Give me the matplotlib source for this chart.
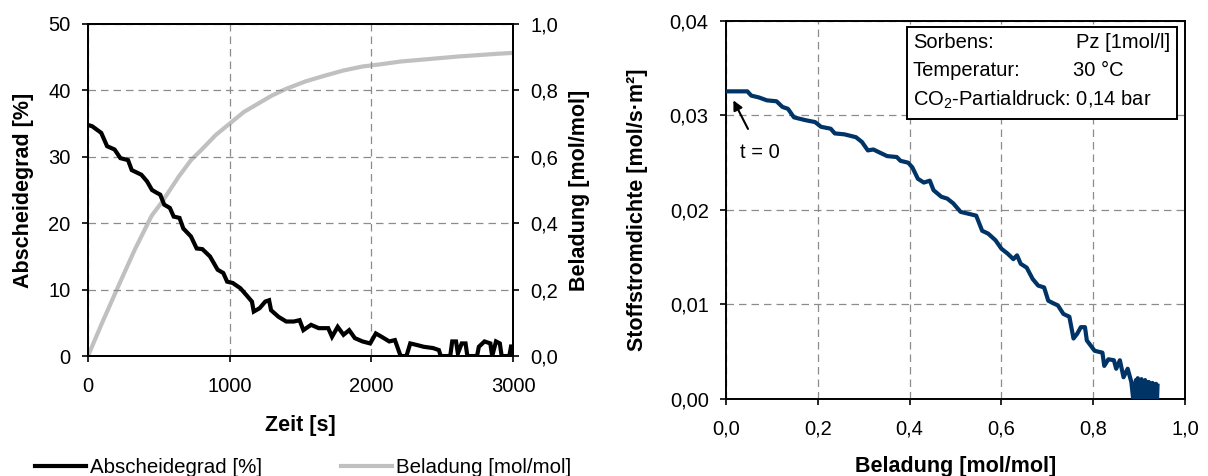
import numpy as np
import matplotlib
matplotlib.use("Agg")
from matplotlib import pyplot as plt
from matplotlib.ticker import FuncFormatter
from matplotlib.patches import Rectangle

plt.rcParams['font.family'] = ['Liberation Sans', 'DejaVu Sans']
plt.rcParams['mathtext.fontset'] = 'custom'
plt.rcParams['mathtext.rm'] = 'Liberation Sans'
plt.rcParams['mathtext.it'] = 'Liberation Sans:italic'
plt.rcParams['mathtext.bf'] = 'Liberation Sans:bold'

# left chart: Abscheidegrad over time
zeit_a = [0, 30, 94, 135, 188, 229, 283, 309, 377, 417, 452, 484, 510, 538, 578,
          605, 646, 673, 727, 767, 807, 861, 888, 915, 955, 982, 1022, 1076, 1117,
          1157, 1170, 1211, 1251, 1278, 1292, 1345, 1399, 1453, 1493, 1520, 1574,
          1628, 1695, 1722, 1762, 1803, 1843, 1883, 1937, 1991, 2031, 2072, 2126,
          2166, 2206, 2247, 2274, 2314, 2368, 2435, 2476, 2489, 2556, 2570, 2597,
          2610, 2637, 2664, 2677, 2745, 2758, 2798, 2839, 2852, 2879, 2906, 2919,
          2973, 2987, 3000]
abscheidegrad = [34.8, 34.6, 33.6, 31.6, 31.1, 29.8, 29.5, 28.0, 27.3, 26.3, 25.0,
                 24.6, 24.3, 22.8, 22.3, 21.0, 20.8, 19.2, 18.0, 16.2, 16.1, 15.0,
                 14.0, 13.0, 12.5, 11.2, 11.0, 10.2, 9.2, 8.2, 6.7, 7.2, 8.2, 8.4,
                 6.9, 5.9, 5.2, 5.2, 5.4, 3.9, 4.7, 4.2, 4.2, 2.9, 4.4, 3.2, 3.9,
                 2.7, 2.2, 1.9, 3.4, 2.9, 2.2, 2.4, 0.0, 0.0, 1.9, 1.7, 1.4, 1.2,
                 0.9, 0.0, 0.0, 2.2, 2.2, 0.4, 1.9, 1.9, 0.0, 0.0, 1.4, 2.2, 1.9,
                 0.0, 2.2, 1.9, 0.0, 0.0, 1.7, 0.0]

zeit_b = [0, 100, 216, 330, 450, 521, 640, 727, 803, 900, 1000, 1100, 1200, 1300,
          1400, 1534, 1668, 1803, 1937, 2072, 2206, 2341, 2476, 2610, 2745, 2879,
          3000]
beladung_t = [0.0, 0.100, 0.212, 0.320, 0.423, 0.463, 0.540, 0.590, 0.622, 0.665,
              0.700, 0.735, 0.760, 0.785, 0.805, 0.827, 0.844, 0.860, 0.872, 0.879,
              0.887, 0.892, 0.897, 0.902, 0.906, 0.910, 0.913]

# right chart: Stoffstromdichte over Beladung
beladung_r = [0.0, 0.0465, 0.055, 0.072, 0.089, 0.110, 0.123, 0.135, 0.148, 0.173,
              0.194, 0.207, 0.228, 0.237, 0.258, 0.283, 0.296, 0.309, 0.321, 0.338,
              0.351, 0.372, 0.380, 0.397, 0.406, 0.418, 0.431, 0.444, 0.452, 0.469,
              0.482, 0.495, 0.511, 0.528, 0.545, 0.558, 0.571, 0.587, 0.600, 0.613,
              0.626, 0.634, 0.642, 0.655, 0.668, 0.680, 0.693, 0.702, 0.710, 0.723,
              0.735, 0.748, 0.757, 0.765, 0.773, 0.782, 0.786, 0.803, 0.820, 0.824,
              0.833, 0.845, 0.850, 0.858, 0.866, 0.875, 0.883, 0.887, 0.889, 0.891,
              0.893, 0.895, 0.897, 0.899, 0.901, 0.903, 0.905, 0.907, 0.909, 0.911,
              0.913, 0.915, 0.917, 0.919, 0.921, 0.923, 0.925, 0.927, 0.929, 0.931,
              0.933, 0.935, 0.937, 0.939, 0.940]
stoffstrom = [0.03255, 0.03255, 0.0321, 0.0319, 0.0316, 0.0315, 0.0309, 0.0307,
              0.0298, 0.0295, 0.0293, 0.0288, 0.0286, 0.0281, 0.0280, 0.0277,
              0.0272, 0.0263, 0.0264, 0.0260, 0.0257, 0.0256, 0.0252, 0.0250,
              0.0245, 0.0233, 0.0229, 0.0231, 0.0221, 0.0214, 0.0212, 0.0207,
              0.0198, 0.0196, 0.0194, 0.0178, 0.0175, 0.0168, 0.0159, 0.0154,
              0.0148, 0.0152, 0.0143, 0.0139, 0.0127, 0.0120, 0.0118, 0.0104,
              0.0102, 0.0099, 0.0090, 0.0087, 0.0064, 0.0069, 0.0076, 0.0076,
              0.0062, 0.0051, 0.0049, 0.0035, 0.0042, 0.0041, 0.0032, 0.0041,
              0.0023, 0.0032, 0.0018, 0.0, 0.0016, 0.0, 0.0020, 0.0002, 0.0022,
              0.0, 0.0019, 0.0003, 0.0021, 0.0, 0.0018, 0.0, 0.0020, 0.0002,
              0.0017, 0.0, 0.0018, 0.0, 0.0016, 0.0003, 0.0017, 0.0, 0.0015,
              0.0, 0.0016, 0.0, 0.0014]

comma = lambda d: FuncFormatter(lambda v, p: ('%.*f' % (d, v)).replace('.', ','))
grid_kw = dict(color='#8c8c8c', linestyle=(0, (6, 4)), linewidth=0.9)
fs = 14.5
lfs = 15.5


def style(a):
    a.tick_params(direction='out', length=4.5, width=1.2, labelsize=fs)
    a.tick_params(axis='y', pad=8)
    a.tick_params(axis='x', pad=10.5)
    for s in a.spines.values():
        s.set_linewidth(1.4)


fig = plt.figure(figsize=(12.08, 4.76), dpi=100)

ax = fig.add_axes([0.0728, 0.252, 0.352, 0.6976])
ax.plot(zeit_a, abscheidegrad, color='black', lw=3.0, zorder=4,
        solid_joinstyle='miter', label='Abscheidegrad [%]')
ax.set_xlim(0, 3000)
ax.set_ylim(0, 50)
ax.set_xticks([0, 1000, 2000, 3000])
ax.set_yticks([0, 10, 20, 30, 40, 50])
ax.grid(True, **grid_kw)
ax.set_axisbelow(True)
ax.set_xlabel('Zeit [s]', fontsize=lfs, fontweight='bold', va='center')
ax.xaxis.set_label_coords(0.5, -0.208)
ax.set_ylabel('Abscheidegrad [%]', fontsize=lfs, fontweight='bold', va='center')
ax.yaxis.set_label_coords(-0.152, 0.5)

ax2 = ax.twinx()
ax2.plot(zeit_b, beladung_t, color='#c0c0c0', lw=3.0, zorder=3,
         label='Beladung [mol/mol]')
ax2.set_ylim(0, 1.0)
ax2.set_yticks([0, 0.2, 0.4, 0.6, 0.8, 1.0])
ax2.yaxis.set_major_formatter(comma(1))
ax2.set_ylabel('Beladung [mol/mol]', fontsize=lfs, fontweight='bold', va='center')
ax2.yaxis.set_label_coords(1.155, 0.5)
ax.set_zorder(ax2.get_zorder() + 1)
ax.patch.set_visible(False)
style(ax)
style(ax2)

h1, l1 = ax.get_legend_handles_labels()
h2, l2 = ax2.get_legend_handles_labels()
fig.legend(h1 + h2, l1 + l2, loc='center left', bbox_to_anchor=(0.014, 0.018),
           ncol=2, frameon=False, fontsize=14.8, handlelength=2.45,
           handletextpad=0.2, columnspacing=3.85)

# right chart
bx = fig.add_axes([0.601, 0.1618, 0.380, 0.7942])
bx.plot(beladung_r, stoffstrom, color='#003366', lw=3.0, zorder=3)
bx.set_xlim(0, 1.0)
bx.set_ylim(0, 0.04)
bx.set_xticks([0, 0.2, 0.4, 0.6, 0.8, 1.0])
bx.set_yticks([0, 0.01, 0.02, 0.03, 0.04])
bx.xaxis.set_major_formatter(comma(1))
bx.yaxis.set_major_formatter(comma(2))
bx.grid(True, **grid_kw)
bx.set_axisbelow(True)
style(bx)
bx.set_xlabel('Beladung [mol/mol]', fontsize=lfs, fontweight='bold', va='center')
bx.xaxis.set_label_coords(0.5, -0.178)
bx.set_ylabel('Stoffstromdichte [mol/s·m²]', fontsize=lfs, fontweight='bold',
              va='center')
bx.yaxis.set_label_coords(-0.192, 0.5)

bx.add_patch(Rectangle((0.394, 0.741), 0.589, 0.243, transform=bx.transAxes,
                       facecolor='white', edgecolor='black', lw=1.4, zorder=5))
rows_y = [0.942, 0.868, 0.791]
bx.text(0.407, rows_y[0], 'Sorbens:', transform=bx.transAxes, fontsize=fs,
        va='center', zorder=6)
bx.text(0.967, rows_y[0], 'Pz [1mol/l]', transform=bx.transAxes, fontsize=fs,
        va='center', ha='right', zorder=6)
bx.text(0.407, rows_y[1], 'Temperatur:', transform=bx.transAxes, fontsize=fs,
        va='center', zorder=6)
bx.text(0.756, rows_y[1], '30 °C', transform=bx.transAxes, fontsize=fs,
        va='center', zorder=6)
bx.text(0.407, rows_y[2], 'CO$_2$-Partialdruck: 0,14 bar', transform=bx.transAxes,
        fontsize=fs, va='center', zorder=6)

bx.annotate('t = 0', xy=(0.016, 0.0316), xytext=(0.074, 0.0261), fontsize=fs,
            ha='center', va='center',
            arrowprops=dict(arrowstyle='-|>', color='black', lw=1.5,
                            mutation_scale=14, shrinkA=9, shrinkB=0))

fig.savefig('out.png', dpi=100)
